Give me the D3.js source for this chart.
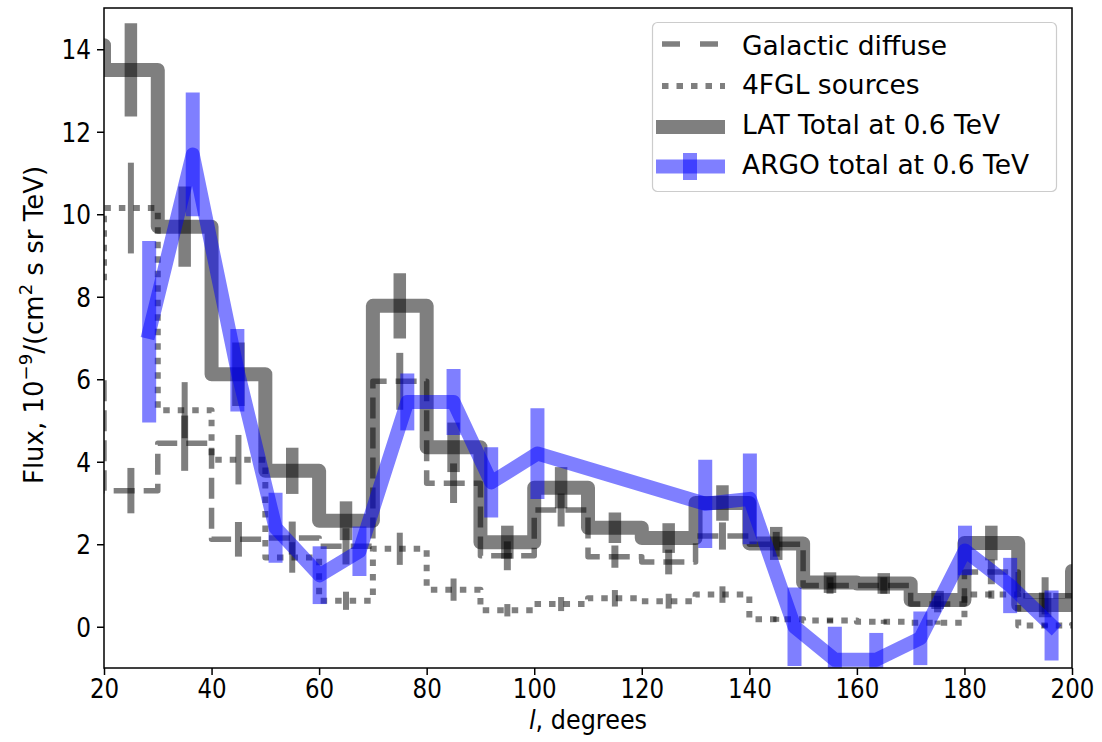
<!DOCTYPE html>
<html>
<head>
<meta charset="utf-8">
<script src="https://cdn.jsdelivr.net/npm/d3@7"></script>
<style>
body { margin: 0; background: #fff; }
text { font-family: "DejaVu Sans", sans-serif; }
</style>
</head>
<body>
<script>
// bin centres in galactic longitude (deg)
var lon = [15, 25, 35, 45, 55, 65, 75, 85, 95, 105, 115, 125, 135, 145, 155, 165, 175, 185, 195, 205];

var latTotal = [14.1, 13.5, 9.7, 6.12, 3.78, 2.57, 7.78, 4.35, 2.05, 3.37, 2.4, 2.15, 3.0, 2.02, 1.07, 1.05, 0.65, 2.03, 0.53, 1.35];
var latErr   = [0, 1.13, 0.97, 0.77, 0.56, 0.47, 0.79, 0.6, 0.4, 0.5, 0.37, 0.36, 0.43, 0.4, 0.25, 0.25, 0.22, 0.42, 0.3, 0];

var galDiffuse = [6.05, 3.3, 4.45, 2.12, 2.15, 1.95, 5.95, 3.48, 1.72, 2.83, 1.7, 1.57, 2.2, 2.0, 1.0, 1.0, 0.55, 1.33, 0.75, 0.9];
var galErr     = [0, 0.55, 0.67, 0.42, 0.4, 0.44, 0.69, 0.48, 0.35, 0.4, 0.27, 0.3, 0.33, 0.3, 0.2, 0.2, 0.2, 0.3, 0.45, 0];

var fglSources = [8.35, 10.15, 5.25, 4.05, 1.68, 0.63, 1.89, 0.9, 0.4, 0.55, 0.69, 0.62, 0.78, 0.18, 0.15, 0.12, 0.1, 0.78, 0.03, 0.05];
var fglErr     = [0, 1.1, 0.68, 0.6, 0.37, 0.22, 0.39, 0.27, 0.15, 0.17, 0.2, 0.18, 0.2, 0.06, 0.05, 0.05, 0.05, 0.1, 0.05, 0];

var argoLon   = [28.4, 36.5, 44.8, 51.9, 60.1, 67.5, 76.4, 85.0, 92.0, 100.6, 131.8, 140.1, 148.4, 155.9, 163.6, 171.8, 180.1, 188.5, 196.2];
var argoTotal = [7.15, 11.45, 6.22, 2.4, 1.25, 1.83, 5.45, 5.45, 3.5, 4.2, 2.98, 3.1, 0.0, -0.8, -0.8, -0.28, 1.85, 1.0, 0.03];
var argoErr   = [2.2, 1.5, 1.0, 0.85, 0.7, 0.6, 0.69, 0.8, 0.85, 1.1, 1.07, 1.1, 0.95, 0.8, 0.65, 0.65, 0.6, 0.67, 0.85];

var xTicks = [20, 40, 60, 80, 100, 120, 140, 160, 180, 200];
var yTicks = [0, 2, 4, 6, 8, 10, 12, 14];

var margin = {top: 8, right: 30, bottom: 74, left: 104},
    width = 1102 - margin.left - margin.right,
    height = 742 - margin.top - margin.bottom;

var svg = d3.select("body").append("svg")
    .attr("width", 1102)
    .attr("height", 742);

var g = svg.append("g")
    .attr("transform", "translate(" + margin.left + "," + margin.top + ")");

var x = d3.scaleLinear().domain([20, 200]).range([0, width]);
var y = d3.scaleLinear().domain([-1, 15]).range([height, 0]);

g.append("clipPath").attr("id", "plot")
  .append("rect").attr("width", width).attr("height", height);

var plot = g.append("g").attr("clip-path", "url(#plot)");

var step = d3.line()
    .x(function(d) { return x(d[0]); })
    .y(function(d) { return y(d[1]); })
    .curve(d3.curveStep);

var straight = d3.line()
    .x(function(d) { return x(d[0]); })
    .y(function(d) { return y(d[1]); });

function pairs(xs, ys) { return xs.map(function(v, i) { return [v, ys[i]]; }); }

// vertical error bars
function errBars(xs, ys, es, w, color) {
  plot.append("g").selectAll("line")
    .data(xs.map(function(v, i) { return {x: v, y: ys[i], e: es[i]}; })
            .filter(function(d) { return d.e > 0; }))
    .enter().append("line")
    .attr("x1", function(d) { return x(d.x); })
    .attr("x2", function(d) { return x(d.x); })
    .attr("y1", function(d) { return y(d.y - d.e); })
    .attr("y2", function(d) { return y(d.y + d.e); })
    .attr("stroke", color)
    .attr("stroke-opacity", 0.5)
    .attr("stroke-width", w);
}

// Galactic diffuse (dashed)
plot.append("path")
    .attr("d", step(pairs(lon, galDiffuse)))
    .attr("fill", "none").attr("stroke", "#000").attr("stroke-opacity", 0.5)
    .attr("stroke-width", 5.5).attr("stroke-dasharray", "21,9")
    .attr("stroke-linejoin", "round");
errBars(lon, galDiffuse, galErr, 7, "#000");

// 4FGL sources (dotted)
plot.append("path")
    .attr("d", step(pairs(lon, fglSources)))
    .attr("fill", "none").attr("stroke", "#000").attr("stroke-opacity", 0.5)
    .attr("stroke-width", 6).attr("stroke-dasharray", "6.5,8")
    .attr("stroke-linejoin", "round");
errBars(lon, fglSources, fglErr, 6, "#000");

// LAT total
plot.append("path")
    .attr("d", step(pairs(lon, latTotal)))
    .attr("fill", "none").attr("stroke", "#000").attr("stroke-opacity", 0.5)
    .attr("stroke-width", 14).attr("stroke-linejoin", "round");
errBars(lon, latTotal, latErr, 12.5, "#000");

// ARGO total
plot.append("path")
    .attr("d", straight(pairs(argoLon, argoTotal)))
    .attr("fill", "none").attr("stroke", "#0000ff").attr("stroke-opacity", 0.5)
    .attr("stroke-width", 14).attr("stroke-linejoin", "round").attr("stroke-linecap", "square");
errBars(argoLon, argoTotal, argoErr, 14, "#0000ff");

// axes
var xAxis = g.append("g")
    .attr("transform", "translate(0," + height + ")")
    .call(d3.axisBottom(x).tickValues(xTicks).tickSize(7));
xAxis.select(".domain").remove();
xAxis.selectAll("line").attr("stroke-width", 1.5);
xAxis.selectAll("text")
    .attr("font-size", 27).attr("fill", "#000")
    .attr("y", 11).attr("dy", "0.71em")
    .attr("transform", "scale(0.85,1)");

var yAxis = g.append("g")
    .call(d3.axisLeft(y).tickValues(yTicks).tickSize(7));
yAxis.select(".domain").remove();
yAxis.selectAll("line").attr("stroke-width", 1.5);
yAxis.selectAll("text")
    .attr("font-size", 27).attr("fill", "#000")
    .attr("x", -13 / 0.86).attr("dy", "0.36em")
    .attr("transform", "scale(0.86,1)");

// frame
g.append("rect")
    .attr("width", width).attr("height", height)
    .attr("fill", "none").attr("stroke", "#000").attr("stroke-width", 1.5);

// axis labels
var xl = svg.append("text")
    .attr("transform", "translate(588,729) scale(0.92,1)")
    .attr("text-anchor", "middle").attr("font-size", 26);
xl.append("tspan").attr("font-style", "italic").text("l");
xl.append("tspan").text(", degrees");

var yl = svg.append("text")
    .attr("transform", "translate(43,325) rotate(-90)")
    .attr("text-anchor", "middle").attr("font-size", 26);
yl.append("tspan").text("Flux, 10");
yl.append("tspan").attr("font-size", 18).attr("dy", -11).text("\u22129");
yl.append("tspan").attr("dy", 11).text("/(cm");
yl.append("tspan").attr("font-size", 18).attr("dy", -11).text("2");
yl.append("tspan").attr("dy", 11).text(" s sr TeV)");

// legend
var legend = svg.append("g");
legend.append("rect")
    .attr("x", 652.5).attr("y", 22.5).attr("width", 404).attr("height", 169)
    .attr("rx", 5).attr("fill", "#fff").attr("fill-opacity", 0.8)
    .attr("stroke", "#cccccc").attr("stroke-width", 1.2);

legend.append("line").attr("x1", 662).attr("x2", 725).attr("y1", 44).attr("y2", 44)
    .attr("stroke", "#000").attr("stroke-opacity", 0.5).attr("stroke-width", 5.5)
    .attr("stroke-dasharray", "18,20");
legend.append("line").attr("x1", 662).attr("x2", 725).attr("y1", 86).attr("y2", 86)
    .attr("stroke", "#000").attr("stroke-opacity", 0.5).attr("stroke-width", 6)
    .attr("stroke-dasharray", "6.5,8");
legend.append("line").attr("x1", 656).attr("x2", 725).attr("y1", 127).attr("y2", 127)
    .attr("stroke", "#000").attr("stroke-opacity", 0.5).attr("stroke-width", 14);
legend.append("line").attr("x1", 656).attr("x2", 725).attr("y1", 166.5).attr("y2", 166.5)
    .attr("stroke", "#0000ff").attr("stroke-opacity", 0.5).attr("stroke-width", 14);
legend.append("line").attr("x1", 690).attr("x2", 690).attr("y1", 153).attr("y2", 180)
    .attr("stroke", "#0000ff").attr("stroke-opacity", 0.5).attr("stroke-width", 14);

var labels = ["Galactic diffuse", "4FGL sources", "LAT Total at 0.6 TeV", "ARGO total at 0.6 TeV"];
var baselines = [55, 94, 134, 173.5];
legend.selectAll(".lab")
    .data(labels)
    .enter().append("text")
    .attr("x", 742)
    .attr("y", function(d, i) { return baselines[i]; })
    .attr("font-size", 26.5)
    .text(function(d) { return d; });
</script>
</body>
</html>
